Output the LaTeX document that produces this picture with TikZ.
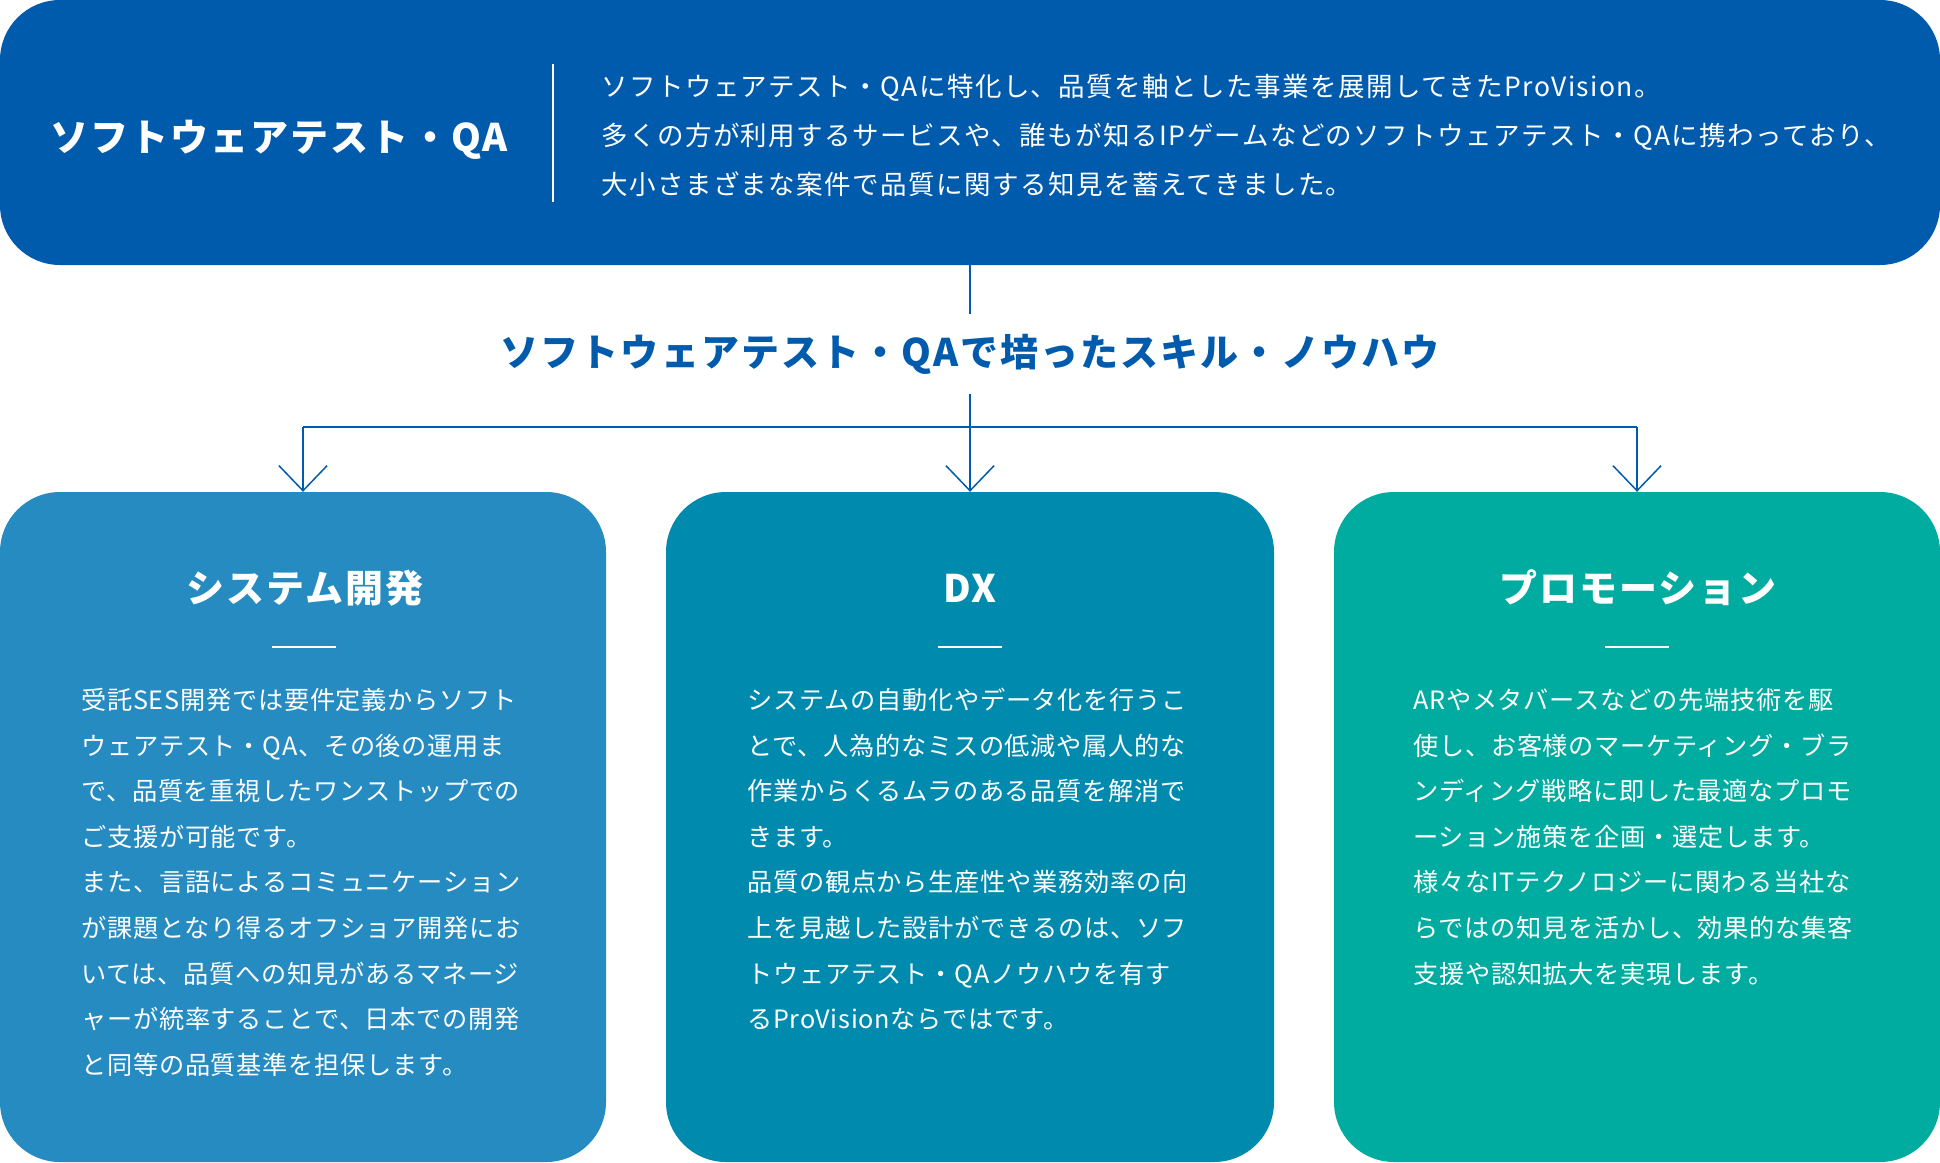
\documentclass[tikz,border=0pt]{standalone}
\usepackage{fontspec}
\usetikzlibrary{arrows.meta}
\setmainfont{Noto Sans CJK JP}
\newfontfamily\jpbody[LetterSpace=3]{Noto Sans CJK JP}
\newfontfamily\jptop[LetterSpace=5.5]{Noto Sans CJK JP}
\newfontfamily\jphead[LetterSpace=5.5]{Noto Sans CJK JP}
\definecolor{qablue}{HTML}{005BAC}
\definecolor{sysblue}{HTML}{258BC1}
\definecolor{dxteal}{HTML}{008BAE}
\definecolor{promo}{HTML}{00ABA0}
\tikzset{
  panel/.style={rounded corners=60pt, minimum width=#1, minimum height=670pt, inner sep=0pt, draw=none},
  bodytxt/.style={font=\jpbody\fontsize{25.2}{25}\selectfont, text=white, anchor=base west, inner sep=0pt},
  desctxt/.style={font=\jptop\fontsize{26.5}{26}\selectfont, text=white, anchor=base west, inner sep=0pt},
  headtxt/.style={font=\jphead\bfseries\fontsize{38}{38}\selectfont, inner sep=0pt},
  wrule/.style={draw=white, line width=2pt},
  lnk/.style={draw=qablue, line width=1.5pt},
  arr/.style={draw=qablue, line width=1.5pt, -{Straight Barb[length=25pt,width=48pt]}},
}
\begin{document}
\begin{tikzpicture}[x=1pt,y=-1pt]
\useasboundingbox (0,0) rectangle (1940,1162);
% top box
\node[fill=qablue, rounded corners=60pt, minimum width=1940pt, minimum height=265pt, inner sep=0pt] (top) at (970,132.5) {};
\node[headtxt, text=white, anchor=base west] (toptitle) at (50,151.5) {ソフトウェアテスト・QA};
\coordinate (dv1) at (553,64);
\coordinate (dv2) at (553,202);
\draw[wrule] (dv1) -- (dv2);
\node[desctxt] (d1) at (601,96) {ソフトウェアテスト・QAに特化し、品質を軸とした事業を展開してきたProVision。};
\node[desctxt] (d2) at (601,145) {多くの方が利用するサービスや、誰もが知るIPゲームなどのソフトウェアテスト・QAに携わっており、};
\node[desctxt] (d3) at (601,194.5) {大小さまざまな案件で品質に関する知見を蓄えてきました。};
% middle label
\node[headtxt, text=qablue, minimum height=80pt] (lbl) at (970,354) {ソフトウェアテスト・QAで培ったスキル・ノウハウ};
% panels
\node[panel=606pt, fill=sysblue] (b1) at (303,827) {};
\node[panel=608pt, fill=dxteal] (b2) at (970,827) {};
\node[panel=606pt, fill=promo] (b3) at (1637,827) {};
% connectors
\coordinate (jl) at (303,427);
\coordinate (jc) at (970,427);
\coordinate (jr) at (1637,427);
\draw[lnk] (top.south) -- (lbl.north);
\draw[lnk] (lbl.south) -- (jc);
\draw[draw=qablue, line width=2.5pt] (jl) -- (jr);
\draw[arr] (jl) -- (b1.north);
\draw[arr] (jc) -- (b2.north);
\draw[arr] (jr) -- (b3.north);
% panel titles
\node[headtxt, text=white, anchor=base] (t1) at (305,602.5) {システム開発};
\node[headtxt, text=white, anchor=base] (t2) at (970,602.5) {DX};
\node[headtxt, text=white, anchor=base] (t3) at (1638,602.5) {プロモーション};
\coordinate (r1a) at (272,647); \coordinate (r1b) at (336,647);
\coordinate (r2a) at (938,647); \coordinate (r2b) at (1002,647);
\coordinate (r3a) at (1605,647); \coordinate (r3b) at (1669,647);
\draw[wrule] (r1a) -- (r1b);
\draw[wrule] (r2a) -- (r2b);
\draw[wrule] (r3a) -- (r3b);
% body texts
\foreach \t [count=\i] in {受託SES開発では要件定義からソフト,ウェアテスト・QA、その後の運用ま,で、品質を重視したワンストップでの,ご支援が可能です。,また、言語によるコミュニケーション,が課題となり得るオフショア開発にお,いては、品質への知見があるマネージ,ャーが統率することで、日本での開発,と同等の品質基準を担保します。}
  {\node[bodytxt] (ba\i) at (81,{709.5+(\i-1)*45.6}) {\t};}
\foreach \t [count=\i] in {システムの自動化やデータ化を行うこ,とで、人為的なミスの低減や属人的な,作業からくるムラのある品質を解消で,きます。,品質の観点から生産性や業務効率の向,上を見越した設計ができるのは、ソフ,トウェアテスト・QAノウハウを有す,るProVisionならではです。}
  {\node[bodytxt] (bb\i) at (747,{709.5+(\i-1)*45.6}) {\t};}
\foreach \t [count=\i] in {ARやメタバースなどの先端技術を駆,使し、お客様のマーケティング・ブラ,ンディング戦略に即した最適なプロモ,ーション施策を企画・選定します。,様々なITテクノロジーに関わる当社な,らではの知見を活かし、効果的な集客,支援や認知拡大を実現します。}
  {\node[bodytxt] (bc\i) at (1413,{709.5+(\i-1)*45.6}) {\t};}
\end{tikzpicture}
\end{document}
